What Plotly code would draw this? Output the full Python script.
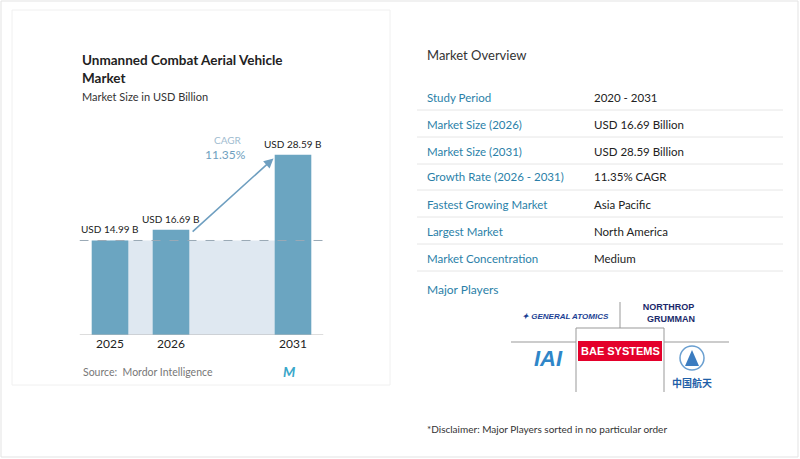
import plotly.graph_objects as go

years = ["2025", "2026", "2031"]
xpos = [0, 1, 3]
values = [14.99, 16.69, 28.59]
value_labels = ["USD 14.99 B", "USD 16.69 B", "USD 28.59 B"]
cagr = "11.35%"

row_labels = ["Study Period", "Market Size (2026)", "Market Size (2031)", "Growth Rate (2026 - 2031)",
              "Fastest Growing Market", "Largest Market", "Market Concentration"]
row_values = ["2020 - 2031", "USD 16.69 Billion", "USD 28.59 Billion", "11.35% CAGR",
              "Asia Pacific", "North America", "Medium"]

W, H = 800, 459
def px(x): return x / W
def py(y): return 1 - y / H

fig = go.Figure()
fig.add_bar(x=xpos, y=values, width=0.6, marker=dict(color="#6ba5c1", line_width=0), hoverinfo="skip")

shapes, ann = [], []

def label(x, y, text, size, color, xanchor="center", family="Lato", **kw):
    ann.append(dict(x=px(x), y=py(y), xref="paper", yref="paper", xanchor=xanchor, yanchor="middle",
                    showarrow=False, text=text, font=dict(size=size, color=color, family=family), **kw))

def pline(x0, y0, x1, y1, color="#999"):
    shapes.append(dict(type="line", xref="paper", yref="paper", x0=px(x0), x1=px(x1), y0=py(y0), y1=py(y1),
                       line=dict(color=color, width=1)))

# cards
shapes.append(dict(type="rect", xref="paper", yref="paper", x0=px(1), x1=px(798), y0=py(457), y1=py(1),
                   line=dict(color="#e3e3e3", width=1), fillcolor="white", layer="below"))
shapes.append(dict(type="rect", xref="paper", yref="paper", x0=px(12), x1=px(390), y0=py(385), y1=py(10),
                   line=dict(color="#f0f0f0", width=1), fillcolor="white", layer="below"))
# shaded region and dashed line
shapes.append(dict(type="rect", x0=0, x1=3, y0=0, y1=values[0], fillcolor="#dfe8f1", line_width=0, layer="below"))
shapes.append(dict(type="line", x0=-0.5, x1=3.5, y0=values[0], y1=values[0],
                   line=dict(color="#9aa9b6", width=1, dash="dash")))
shapes.append(dict(type="line", x0=-0.5, x1=3.5, y0=0, y1=0, line=dict(color="#bbb", width=1)))

# bar value labels
for x, v, t in zip(xpos, values, value_labels):
    ann.append(dict(x=x, y=v, xref="x", yref="y", yanchor="bottom", yshift=3, showarrow=False, text=t,
                    font=dict(size=10, color="#222", family="Lato")))

ann.append(dict(x=2.68, y=28.0, ax=1.33, ay=values[1] - 0.5, xref="x", yref="y", axref="x", ayref="y",
                showarrow=True, arrowhead=2, arrowsize=1.2, arrowwidth=1.6, arrowcolor="#6f9fc0", text=""))
label(228, 140, "CAGR", 10, "#9fbcd0")
label(225, 154, cagr, 12, "#6f9fc0")

# titles
label(80, 69, "<b>Unmanned Combat Aerial Vehicle<br>Market</b>", 13.5, "#222", xanchor="left", align="left")
label(80, 96, "Market Size in USD Billion", 11, "#333", xanchor="left")
label(81, 372, "Source:  Mordor Intelligence", 10.5, "#777", xanchor="left")
label(289, 371, "<b><i>M</i></b>", 14, "#3aa7c9")

# right panel
label(425, 55, "Market Overview", 13, "#333", xanchor="left")
row_y = [97, 124, 151, 177, 204, 231, 258]
for y, lab, val in zip(row_y, row_labels, row_values):
    label(425, y, lab, 11.5, "#2b7fa8", xanchor="left")
    label(592, y, val, 11.5, "#222", xanchor="left")
    pline(417, y + 13, 783, y + 13, "#e6e6e6")
label(425, 289, "Major Players", 12, "#2b7fa8", xanchor="left")

# logo grid
for seg in [(511, 342, 576, 342), (664, 342, 729, 342), (620, 302, 620, 328),
            (576, 328, 664, 328), (576, 328, 576, 392), (664, 328, 664, 392)]:
    pline(*seg)
shapes.append(dict(type="rect", xref="paper", yref="paper", x0=px(578), x1=px(662), y0=py(361), y1=py(341),
                   fillcolor="#e4002b", line_width=0, layer="below"))
shapes.append(dict(type="circle", xref="paper", yref="paper", x0=px(680), x1=px(704), y0=py(370), y1=py(346),
                   line=dict(color="#6a9fd0", width=1.5)))
shapes.append(dict(type="path", xref="paper", yref="paper",
                   path=f"M {px(692)},{py(350)} L {px(685)},{py(366)} L {px(699)},{py(366)} Z",
                   fillcolor="#3b7cc0", line_width=0))
label(565, 316, "<b><i>✦ GENERAL ATOMICS</i></b>", 8, "#1c3f94", family="Liberation Sans")
label(668, 313, "<b>NORTHROP<br>  GRUMMAN</b>", 9, "#1b2a6b", family="Liberation Sans")
label(548, 358, "<b><i>IAI</i></b>", 22, "#2f86c8", family="Liberation Sans")
label(620, 351, "<b>BAE SYSTEMS</b>", 11, "white", family="Liberation Sans")
label(692, 382, "<b>中国航天</b>", 10, "#1f5fa8", family="Noto Sans CJK SC")
label(425, 429, "*Disclaimer: Major Players sorted in no particular order", 10, "#333", xanchor="left")

fig.update_layout(width=W, height=H, margin=dict(l=0, r=0, t=0, b=0), paper_bgcolor="white",
                  plot_bgcolor="rgba(0,0,0,0)", showlegend=False, shapes=shapes, annotations=ann,
                  xaxis=dict(domain=[px(79.5), px(323.5)], range=[-0.5, 3.5], tickvals=xpos, ticktext=years,
                             showgrid=False, zeroline=False, fixedrange=True,
                             tickfont=dict(size=12, color="#222", family="Lato")),
                  yaxis=dict(domain=[py(335), py(149)], range=[0, 29.5], visible=False))
fig.write_html("out.html", config={"displayModeBar": False},
               post_script="document.body.style.margin='0';document.body.style.overflow='hidden';")
